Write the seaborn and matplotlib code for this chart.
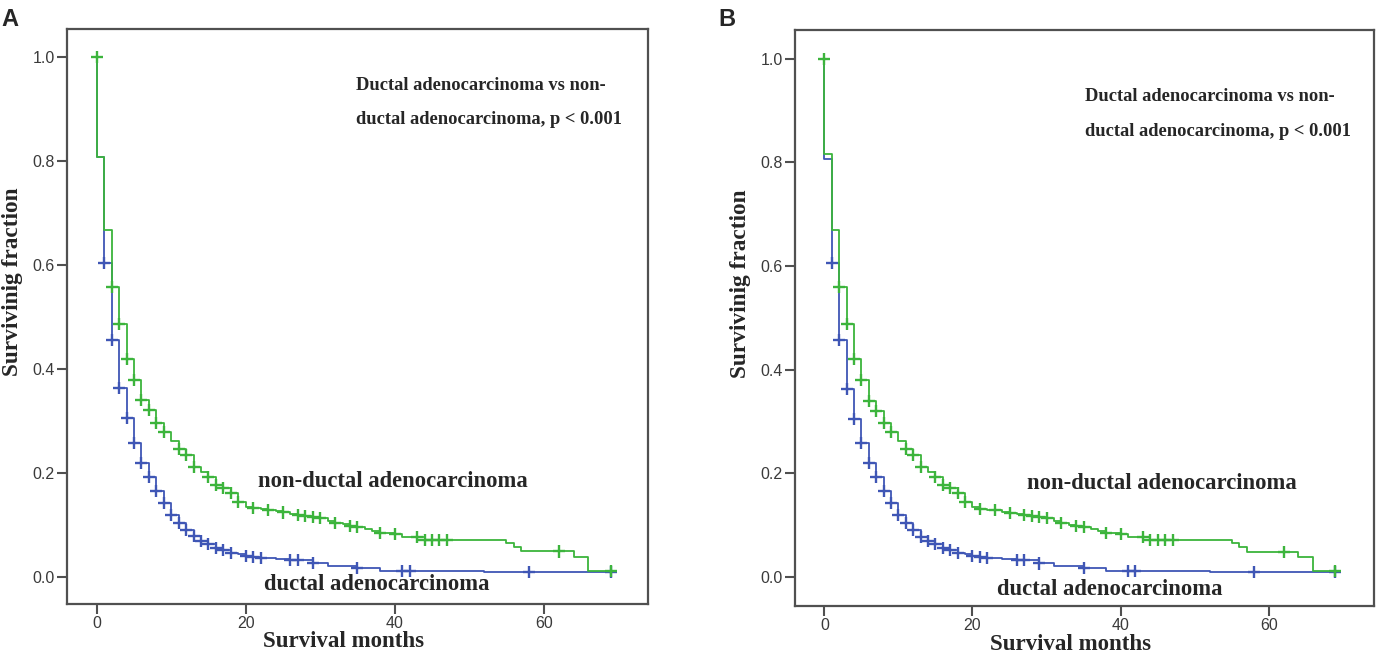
import numpy as np
import pandas as pd
import matplotlib
matplotlib.use("Agg")
import matplotlib.pyplot as plt
import seaborn as sns

# ---------------- data ----------------
# event times (months) and survival fraction after each step
nd_times = [0, 1, 2, 3, 4, 5, 6, 7, 8, 9, 10, 11, 12, 13, 14, 15, 16, 17, 18, 19,
            20, 21, 22, 23, 24, 25, 26, 27, 28, 29, 30, 31, 32, 33, 34, 35, 36, 37,
            38, 39, 40, 41, 44, 55, 56, 57, 64, 66]
nd_surv_a = [0.808, 0.667, 0.558, 0.487, 0.420, 0.379, 0.340, 0.321, 0.297, 0.279,
             0.262, 0.246, 0.235, 0.212, 0.202, 0.193, 0.177, 0.172, 0.162, 0.145,
             0.135, 0.132, 0.130, 0.129, 0.126, 0.124, 0.122, 0.119, 0.118, 0.116,
             0.113, 0.108, 0.104, 0.101, 0.098, 0.096, 0.093, 0.089, 0.085, 0.084,
             0.082, 0.077, 0.071, 0.065, 0.058, 0.049, 0.039, 0.012]
nd_surv_b = [0.816, 0.670, 0.560, 0.487, 0.420, 0.379, 0.340, 0.321, 0.297, 0.279,
             0.262, 0.246, 0.235, 0.212, 0.202, 0.193, 0.177, 0.172, 0.162, 0.145,
             0.135, 0.132, 0.130, 0.129, 0.126, 0.124, 0.122, 0.119, 0.118, 0.116,
             0.113, 0.108, 0.104, 0.101, 0.098, 0.096, 0.093, 0.089, 0.085, 0.084,
             0.082, 0.077, 0.071, 0.065, 0.058, 0.049, 0.039, 0.012]
d_times = [0, 1, 2, 3, 4, 5, 6, 7, 8, 9, 10, 11, 12, 13, 14, 15, 16, 17, 18, 19,
           20, 21, 22, 24, 26, 29, 31, 35, 38, 52]
d_surv_a = [0.808, 0.604, 0.456, 0.363, 0.305, 0.258, 0.219, 0.192, 0.166, 0.143,
            0.119, 0.104, 0.090, 0.078, 0.070, 0.063, 0.055, 0.052, 0.047, 0.044,
            0.040, 0.038, 0.036, 0.034, 0.033, 0.026, 0.022, 0.017, 0.012, 0.009]
d_surv_b = [0.806, 0.606, 0.458, 0.363, 0.305, 0.258, 0.219, 0.192, 0.166, 0.143,
            0.119, 0.104, 0.090, 0.078, 0.070, 0.063, 0.055, 0.052, 0.047, 0.044,
            0.040, 0.038, 0.036, 0.034, 0.033, 0.026, 0.022, 0.017, 0.012, 0.009]
end_time = 69.3

# censoring times
nd_censor = [0, 2, 3, 4, 5, 6, 7, 8, 9, 11, 12, 13, 15, 16, 17, 18, 19, 21, 23, 25,
             27, 28, 29, 30, 32, 34, 35, 38, 40, 43, 44, 45, 46, 47, 62, 69]
d_censor = [1, 2, 3, 4, 5, 6, 7, 8, 9, 10, 11, 12, 13, 14, 15, 16, 17, 18, 20, 21,
            22, 26, 27, 29, 35, 41, 42, 58, 69]

groups = ["ductal adenocarcinoma", "non-ductal adenocarcinoma"]
colors = {"ductal adenocarcinoma": "#3f56b5", "non-ductal adenocarcinoma": "#3cb43c"}

y_ticks = [0.0, 0.2, 0.4, 0.6, 0.8, 1.0]
x_ticks = [0, 20, 40, 60]
annot_1 = "Ductal adenocarcinoma vs non-"
annot_2 = "ductal adenocarcinoma, p < 0.001"


def step_df(times, surv, name):
    t = [0.0] + list(times) + [end_time]
    s = [1.0] + list(surv) + [surv[-1]]
    return pd.DataFrame({"t": t, "s": s, "group": name})


def censor_df(times, surv, ctimes, name):
    times = np.asarray(times, float)
    surv = np.asarray(surv, float)
    vals = []
    for c in ctimes:
        if c == 0:
            vals.append(1.0)
        else:
            idx = np.searchsorted(times, c, side="right") - 1
            vals.append(surv[idx])
    return pd.DataFrame({"t": ctimes, "s": vals, "group": name})


sns.set_style("white")
plt.rcParams["font.family"] = ["Liberation Serif", "DejaVu Serif"]

fig = plt.figure(figsize=(13.76, 6.55), dpi=100)

panels = [
    dict(rect=[67.3 / 1376, 1 - 604 / 655, 580.7 / 1376, 575 / 655],
         xlim=(-3.95, 74.0), ylim=(-0.052, 1.054), nd=nd_surv_a, d=d_surv_a,
         letter="A", letter_x=1 / 1376,
         annot=(34.8, 0.946, 0.879), nd_lab=(21.6, 0.183), d_lab=(22.5, -0.015)),
    dict(rect=[795 / 1376, 1 - 606 / 655, 579 / 1376, 576 / 655],
         xlim=(-3.96, 74.2), ylim=(-0.056, 1.055), nd=nd_surv_b, d=d_surv_b,
         letter="B", letter_x=718 / 1376,
         annot=(35.2, 0.926, 0.859), nd_lab=(27.4, 0.181), d_lab=(23.3, -0.024)),
]

for p in panels:
    ax = fig.add_axes(p["rect"])
    lines = pd.concat([step_df(d_times, p["d"], groups[0]),
                       step_df(nd_times, p["nd"], groups[1])], ignore_index=True)
    cens = pd.concat([censor_df(d_times, p["d"], d_censor, groups[0]),
                      censor_df(nd_times, p["nd"], nd_censor, groups[1])], ignore_index=True)
    sns.lineplot(data=lines, x="t", y="s", hue="group", hue_order=groups,
                 palette=colors, estimator=None, sort=False, drawstyle="steps-post",
                 linewidth=1.3, legend=False, ax=ax)
    sns.scatterplot(data=cens, x="t", y="s", hue="group", hue_order=groups,
                    palette=colors, marker="+", s=75, linewidth=1.7,
                    legend=False, ax=ax, zorder=3)

    ax.set_xlim(*p["xlim"])
    ax.set_ylim(*p["ylim"])
    ax.set_xticks(x_ticks)
    ax.set_xticklabels([str(v) for v in x_ticks])
    ax.set_yticks(y_ticks)
    ax.set_yticklabels([f"{v:.1f}" for v in y_ticks])
    ax.tick_params(axis="both", direction="out", length=7, width=1.5,
                   color="#505050", labelcolor="#3a3a3a", labelsize=11.5, pad=2,
                   left=True, bottom=True)
    for lab in ax.get_xticklabels() + ax.get_yticklabels():
        lab.set_family(["Liberation Sans", "DejaVu Sans"])
    for sp in ax.spines.values():
        sp.set_color("#505050")
        sp.set_linewidth(1.6)

    ax.set_xlabel("Survival months", fontsize=16.5, fontweight="bold")
    ax.set_ylabel("Survivinig fraction", fontsize=16.8, fontweight="bold")
    ax.xaxis.set_label_coords(0.476, -0.066)
    ax.yaxis.set_label_coords(-0.094, 0.56)
    ax.xaxis.label.set_va("center")
    ax.yaxis.label.set_va("center")

    ax.text(p["annot"][0], p["annot"][1], annot_1, fontsize=13.3, fontweight="bold",
            ha="left", va="center")
    ax.text(p["annot"][0], p["annot"][2], annot_2, fontsize=13.3, fontweight="bold",
            ha="left", va="center")
    ax.text(p["nd_lab"][0], p["nd_lab"][1], groups[1], fontsize=16.3,
            fontweight="bold", ha="left", va="center")
    ax.text(p["d_lab"][0], p["d_lab"][1], groups[0], fontsize=16.3,
            fontweight="bold", ha="left", va="center")

    fig.text(p["letter_x"], 1 - 8 / 655, p["letter"], fontsize=17, fontweight="bold",
             family=["Liberation Sans", "DejaVu Sans"], ha="left", va="top")

fig.savefig("out.png", dpi=100)
